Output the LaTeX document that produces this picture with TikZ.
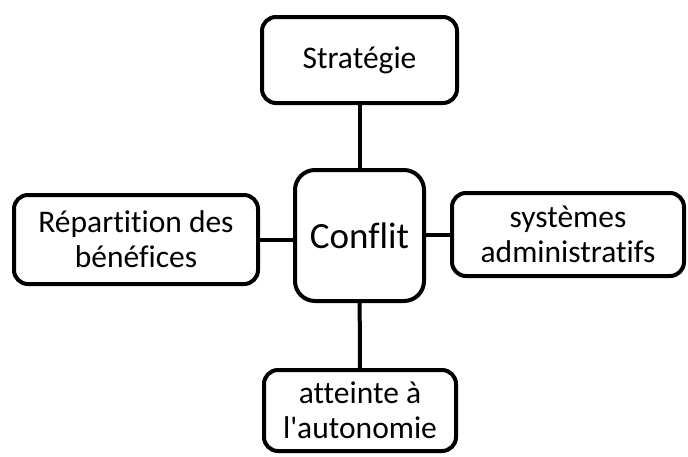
\documentclass[tikz,border=0pt]{standalone}
\usepackage{fontspec}
\setmainfont[Ligatures={NoCommon,TeXOff}]{Carlito}
\usepackage{tikz}
\usetikzlibrary{positioning}

\tikzset{
	topic/.style={draw,line width=4pt,rounded corners=14pt,align=center,inner sep=0pt,font=\fontsize{31.5}{35}\selectfont},
	link/.style={line width=4pt}
}

\begin{document}
\begin{tikzpicture}[x=1pt,y=-1pt]
	 \useasboundingbox (0,0) rectangle (688,456);
	 \node[topic,minimum width=195pt,minimum height=86pt] (strat) at (359.5,60) {Stratégie};
	 \node[topic,minimum width=129pt,minimum height=131pt,rounded corners=20pt,font=\fontsize{37}{42}\selectfont] (conf) at (359.5,235.5) {Conflit};
	 \node[topic,minimum width=244pt,minimum height=89pt] (repart) at (136,239.5) {Répartition des\\bénéfices};
	 \node[topic,minimum width=232pt,minimum height=83pt] (syst) at (568,234.5) {systèmes\\administratifs};
	 \node[topic,minimum width=192pt,minimum height=81pt] (auto) at (360,410.5) {atteinte à\\l'autonomie};
	 \draw[link] (strat) -- (conf);
	 \draw[link] (conf) -- (auto);
	 \draw[link] (repart.east) -- (repart.east -| conf.west);
	 \draw[link] (syst.west) -- (syst.west -| conf.east);
\end{tikzpicture}
\end{document}
